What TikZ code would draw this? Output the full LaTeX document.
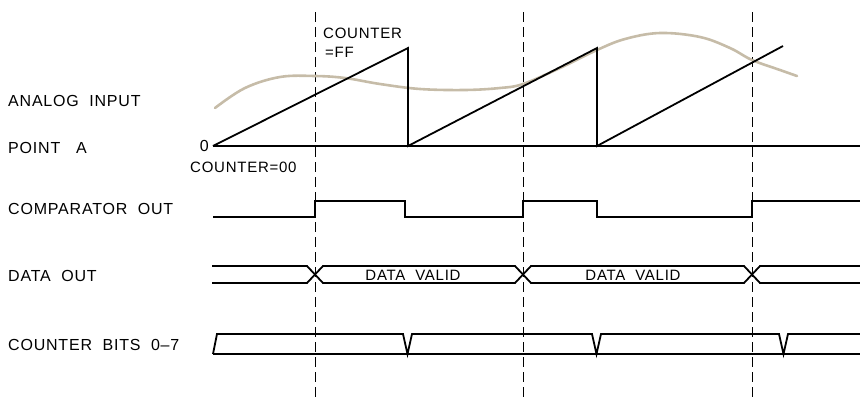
\documentclass[tikz,border=0pt]{standalone}
\usepackage{fontspec}
\usepackage{tikz}
\usetikzlibrary{calc}
\newfontfamily\lbl[LetterSpace=5]{Liberation Sans}
\definecolor{analogtan}{RGB}{198,188,168}

\begin{document}
\begin{tikzpicture}[
    x=1pt, y=-1pt,
    every node/.style={font=\lbl\fontsize{16}{19}\selectfont, inner sep=0pt},
    small/.style={font=\lbl\fontsize{15}{18}\selectfont},
    sig/.style={line width=1.8pt, line join=miter},
    guide/.style={line width=1pt, dash pattern=on 10pt off 5pt},
    analog/.style={line width=2.6pt, draw=analogtan, line cap=round}
]
\useasboundingbox (0,0) rectangle (860,397);

% row labels
\node[anchor=west] (lanalog) at (8,101) {ANALOG\ \ INPUT};
\node[anchor=west] (lpointa) at (8,148) {POINT\ \ \ A};
\node[anchor=west] (lcomp)   at (8,209) {COMPARATOR\ \ OUT};
\node[anchor=west] (ldata)   at (8,276) {DATA\ \ OUT};
\node[anchor=west] (lbits)   at (8,345) {COUNTER\ \ BITS\ \ 0–7};

% sample instants
\foreach \t/\name in {315/ta, 523/tb, 752/tc} {
  \coordinate (\name) at (\t,12);
  \draw[guide] (\name) -- (\t,397);
}

% analog input
\draw[analog] plot[smooth, tension=0.6] coordinates {
  (215,108) (245,88) (280,77) (315,76) (345,78) (380,84) (420,89)
  (465,90) (500,88) (523,84) (560,68) (597,50) (625,39) (660,33)
  (700,37) (730,48) (752,60) (780,70) (797,76)};

% point A: ramps
\draw[sig] (213,146) -- (860,146);
\draw[sig] (213,146) -- (408,48) -- (408,146)
                -- (597,48) -- (597,146)
                -- (783,46);
\node[anchor=east] (zero) at (209,146) {0};
\node[small, anchor=west] (cnt00) at (190,167) {COUNTER=00};
\node[small, anchor=west] (cntff) at (323,33) {COUNTER};
\node[small, anchor=west] (eqff)  at (325,52) {=FF};

% comparator out
\draw[sig] (213,217) -- (315,217) -- (315,201) -- (405,201) -- (405,217)
   -- (523,217) -- (523,201) -- (597,201) -- (597,217)
   -- (752,217) -- (752,201) -- (860,201);

% data out
\draw[sig] (212,266) -- (307,266) -- (323,283) -- (515,283) -- (531,266)
   -- (744,266) -- (760,283) -- (860,283);
\draw[sig] (212,283) -- (307,283) -- (323,266) -- (515,266) -- (531,283)
   -- (744,283) -- (760,266) -- (860,266);
\node[small] (valid1) at (413,275) {DATA\ \ VALID};
\node[small] (valid2) at (633,275) {DATA\ \ VALID};

% counter bits
\draw[sig] (213,354) -- (860,354);
\draw[sig] (213,354) -- (217,334) -- (403,334)
  \foreach \v in {403, 592, 779} { -- (\v,334) -- (\v+4.5,354) -- (\v+9,334) }
  -- (860,334);
\end{tikzpicture}
\end{document}
